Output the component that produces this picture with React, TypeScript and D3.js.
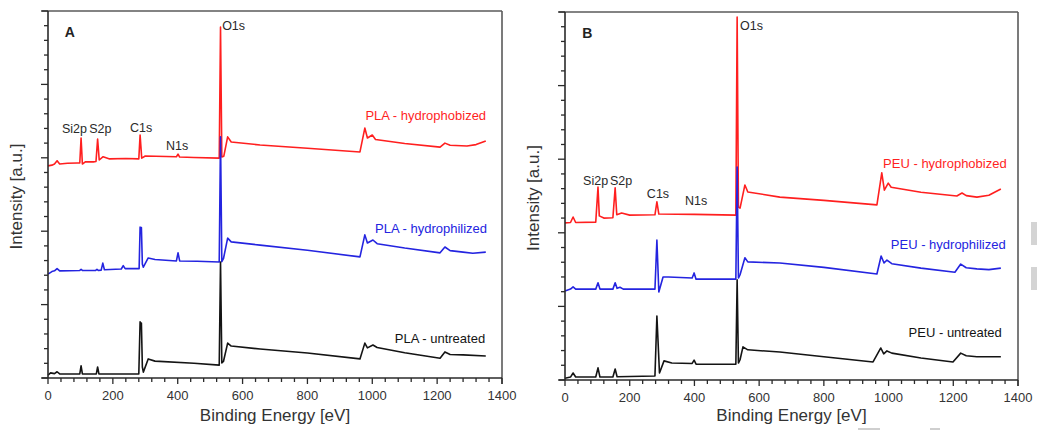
import React from "react";
import * as d3 from "d3";

type Pt = [number, number];

// ---------- data (binding energy [eV], intensity [a.u., 0-100 scale]) ----------
const energyLabels = [0, 200, 400, 600, 800, 1000, 1200, 1400];
const energyMinorStep = 40;
const intensityMinorStep = 4;
const intensityMajorStep = 20;

const plaHydrophobized: Pt[] = [
  [0, 57.8], [12, 58.0], [20, 58.3], [28, 59.2], [36, 58.3], [60, 58.5], [90, 58.6], [98, 58.6],
  [102, 65.4], [106, 58.3], [115, 58.9], [140, 58.9], [148, 59.0], [153, 65.1], [158, 59.4],
  [170, 60.3], [190, 59.7], [240, 59.8], [280, 59.7], [284, 66.2], [289, 59.9], [300, 60.5],
  [396, 60.3], [401, 61.0], [406, 60.2], [450, 60.1], [528, 59.9], [532, 95.6], [536, 60.2],
  [542, 60.4], [554, 65.7], [565, 64.3], [654, 63.5], [800, 62.6], [962, 61.6], [977, 68.1],
  [985, 65.4], [1000, 66.2], [1010, 65.0], [1100, 63.9], [1209, 62.9], [1224, 64.0], [1240, 63.4],
  [1292, 63.2], [1320, 63.6], [1350, 64.6],
];
const plaHydrophilized: Pt[] = [
  [0, 28.3], [12, 29.0], [20, 29.2], [28, 29.8], [36, 29.2], [98, 29.3], [102, 29.6], [106, 29.3],
  [147, 29.3], [151, 29.6], [155, 29.3], [164, 29.4], [169, 31.3], [174, 29.5], [226, 29.7],
  [232, 30.6], [238, 29.8], [281, 29.8], [284, 41.1], [286, 40.2], [288, 41.0], [291, 31.0],
  [294, 30.2], [309, 32.7], [330, 32.3], [396, 31.9], [401, 34.1], [406, 31.9], [460, 31.8],
  [528, 31.6], [532, 65.7], [536, 31.7], [541, 32.5], [554, 38.1], [565, 37.1], [654, 36.2],
  [800, 34.8], [962, 33.0], [977, 39.0], [985, 36.8], [1002, 37.6], [1015, 36.6], [1100, 35.4],
  [1209, 34.1], [1224, 35.7], [1240, 34.7], [1280, 34.3], [1310, 34.0], [1350, 34.3],
];
const plaUntreated: Pt[] = [
  [0, 0.8], [8, 1.4], [20, 1.2], [28, 1.7], [36, 1.1], [98, 1.1], [102, 3.3], [106, 1.1],
  [149, 1.1], [153, 3.0], [157, 1.1], [280, 1.1], [284, 15.3], [286, 13.5], [288, 15.0],
  [291, 3.0], [294, 1.6], [309, 5.2], [330, 4.6], [450, 4.0], [528, 3.5], [532, 31.6],
  [536, 4.1], [541, 4.5], [554, 9.5], [565, 8.7], [654, 7.9], [800, 6.8], [962, 5.2],
  [977, 9.5], [985, 8.2], [1002, 9.0], [1015, 8.3], [1100, 6.9], [1209, 5.4], [1224, 7.1],
  [1240, 6.4], [1280, 6.3], [1350, 6.0],
];

const peuHydrophobized: Pt[] = [
  [0, 42.7], [17, 42.8], [25, 44.3], [33, 42.8], [95, 42.9], [102, 52.4], [106, 44.6],
  [120, 44.0], [148, 44.1], [155, 52.2], [160, 44.9], [175, 45.4], [200, 44.8], [278, 44.9],
  [284, 48.4], [290, 45.1], [400, 45.0], [528, 44.8], [532, 98.6], [536, 47.0], [541, 46.7],
  [556, 53.0], [565, 51.1], [664, 49.7], [800, 48.8], [964, 47.6], [979, 56.3], [987, 51.6],
  [999, 53.5], [1008, 52.4], [1100, 51.0], [1211, 50.0], [1227, 50.8], [1240, 50.1],
  [1273, 49.7], [1310, 50.2], [1347, 51.9],
];
const peuHydrophilized: Pt[] = [
  [0, 24.2], [17, 24.7], [25, 25.3], [33, 24.7], [95, 24.7], [102, 26.4], [108, 24.7],
  [148, 24.7], [155, 26.4], [161, 24.9], [170, 25.2], [180, 24.7], [278, 24.7], [284, 38.0],
  [290, 23.9], [303, 28.0], [320, 28.0], [393, 27.7], [399, 29.1], [405, 27.4], [528, 27.4],
  [532, 57.9], [536, 27.7], [541, 28.6], [556, 33.2], [565, 32.1], [664, 31.8], [800, 30.6],
  [964, 28.8], [977, 33.7], [986, 31.8], [995, 32.6], [1010, 31.6], [1100, 30.4], [1205, 29.3],
  [1223, 31.5], [1240, 30.5], [1273, 30.2], [1310, 30.0], [1347, 30.4],
];
const peuUntreated: Pt[] = [
  [0, 0.5], [17, 0.8], [25, 1.9], [33, 0.8], [95, 0.8], [102, 3.3], [108, 0.8], [148, 0.8],
  [155, 3.0], [161, 0.9], [278, 1.1], [284, 17.4], [292, 1.9], [306, 5.2], [330, 4.6],
  [393, 4.5], [399, 5.4], [405, 4.3], [528, 4.3], [532, 27.2], [536, 4.6], [541, 5.5],
  [550, 9.0], [565, 8.2], [664, 7.6], [800, 6.3], [952, 4.9], [976, 8.7], [985, 7.1],
  [995, 7.9], [1010, 7.3], [1100, 6.0], [1199, 4.9], [1223, 7.3], [1240, 6.6], [1273, 6.3],
  [1347, 6.3],
];

const plaSeriesNames = ["PLA - hydrophobized", "PLA - hydrophilized", "PLA - untreated"];
const peuSeriesNames = ["PEU - hydrophobized", "PEU - hydrophilized", "PEU - untreated"];

// annotation anchors in data coordinates [energy, intensity]
const plaSeriesLabelAt: Pt[] = [[1351, 70.3], [1354, 39.5], [1348, 9.5]];
const peuSeriesLabelAt: Pt[] = [[1365, 57.6], [1362, 35.6], [1350, 11.7]];
const peakNames = ["Si2p", "S2p", "C1s", "N1s", "O1s"];
const plaPeakLabelAt: Pt[] = [[43, 66.8], [127, 66.8], [253, 67.0], [364, 62.1], [537, 94.8]];
const peuPeakLabelAt: Pt[] = [[56, 53.0], [139, 53.0], [253, 49.5], [371, 47.6], [541, 95.1]];

// ---------- styling ----------
const RED = "#ff1f1f";
const BLUE = "#2424e0";
const BLACK = "#141414";
const FONT = "'Liberation Sans', Arial, Helvetica, sans-serif";

interface PanelProps {
  letter: string;
  left: number;
  right: number;
  top: number;
  bottom: number;
  series: Pt[][];
  names: string[];
  labelAt: Pt[];
  peakAt: Pt[];
}

const colors = [RED, BLUE, BLACK];

function Panel(p: PanelProps) {
  const x = d3.scaleLinear().domain([0, 1400]).range([p.left, p.right]);
  const y = d3.scaleLinear().domain([0, 100]).range([p.bottom, p.top]);
  const line = d3
    .line<Pt>()
    .x((d) => x(d[0]))
    .y((d) => y(d[1]))
    .curve(d3.curveLinear);

  const xMinor = d3.range(0, 1400 + 1, energyMinorStep);
  const yMinor = d3.range(0, 100 + 1, intensityMinorStep);
  const axisColor = "#2a2a2a";
  const frameColor = "#5a5a5a";
  const midX = (p.left + p.right) / 2;
  const midY = (p.top + p.bottom) / 2;

  return (
    <g fontFamily={FONT}>
      {/* frame */}
      <line x1={p.left - 6} x2={p.right} y1={p.top} y2={p.top} stroke={frameColor} strokeWidth={1.6} />
      <line x1={p.right} x2={p.right} y1={p.top} y2={p.bottom + 6} stroke={frameColor} strokeWidth={1.6} />
      {/* spectra: drawn red, blue, black */}
      {p.series.map((s, i) => (
        <path key={i} d={line(s) || ""} fill="none" stroke={colors[i]} strokeWidth={1.6} strokeLinejoin="round" />
      ))}
      {/* axes */}
      <line x1={p.left} x2={p.left} y1={p.top} y2={p.bottom} stroke={axisColor} strokeWidth={1.6} />
      <line x1={p.left - 6} x2={p.right} y1={p.bottom} y2={p.bottom} stroke={axisColor} strokeWidth={1.6} />
      {yMinor.map((v) => {
        const major = v % intensityMajorStep === 0;
        return (
          <line key={"y" + v} x1={p.left - (major ? 7 : 4)} x2={p.left} y1={y(v)} y2={y(v)} stroke={axisColor} strokeWidth={1.3} />
        );
      })}
      {xMinor.map((e) => {
        const major = e % 200 === 0;
        return (
          <line key={"x" + e} x1={x(e)} x2={x(e)} y1={p.bottom} y2={p.bottom + (major ? 6 : 4)} stroke={axisColor} strokeWidth={1.3} />
        );
      })}
      {energyLabels.map((e) => (
        <text key={"xl" + e} x={x(e)} y={p.bottom + 22} textAnchor="middle" fontSize={13} fill="#333">
          {e}
        </text>
      ))}
      <text x={midX} y={421} textAnchor="middle" fontSize={17} fill="#333">
        Binding Energy [eV]
      </text>
      <text
        transform={`translate(${p.left - 26},${midY + 2}) rotate(-90)`}
        textAnchor="middle"
        fontSize={17}
        fill="#333"
      >
        Intensity [a.u.]
      </text>
      {/* panel letter */}
      <text x={x(p.letter === "A" ? 52 : 53)} y={y(92.9)} fontSize={14} fontWeight="bold" fill="#222">
        {p.letter}
      </text>
      {/* peak labels */}
      {peakNames.map((n, i) => (
        <text key={n} x={x(p.peakAt[i][0])} y={y(p.peakAt[i][1])} fontSize={12.5} fill="#2a2a2a">
          {n}
        </text>
      ))}
      {/* series labels */}
      {p.names.map((n, i) => (
        <text key={n} x={x(p.labelAt[i][0])} y={y(p.labelAt[i][1])} textAnchor="end" fontSize={13} fill={colors[i]}>
          {n}
        </text>
      ))}
    </g>
  );
}

export default function App() {
  return (
    <svg
      width={1037}
      height={431}
      viewBox="0 0 1037 431"
      style={{ position: "absolute", left: 0, top: 0, background: "#fff", display: "block" }}
    >
      <rect x={0} y={0} width={1037} height={431} fill="#fff" />
      <Panel
        letter="A"
        left={48}
        right={502}
        top={11}
        bottom={378}
        series={[plaHydrophobized, plaHydrophilized, plaUntreated]}
        names={plaSeriesNames}
        labelAt={plaSeriesLabelAt}
        peakAt={plaPeakLabelAt}
      />
      <Panel
        letter="B"
        left={565}
        right={1018}
        top={12}
        bottom={380}
        series={[peuHydrophobized, peuHydrophilized, peuUntreated]}
        names={peuSeriesNames}
        labelAt={peuSeriesLabelAt}
        peakAt={peuPeakLabelAt}
      />
      {/* scan artefacts at the image edge */}
      <rect x={1031} y={222} width={6} height={23} fill="#d4d4d4" />
      <rect x={1031} y={267} width={6} height={23} fill="#d4d4d4" />
      <rect x={858} y={428} width={22} height={2} fill="#cfcfcf" />
      <rect x={930} y={428} width={10} height={2} fill="#cfcfcf" />
    </svg>
  );
}
